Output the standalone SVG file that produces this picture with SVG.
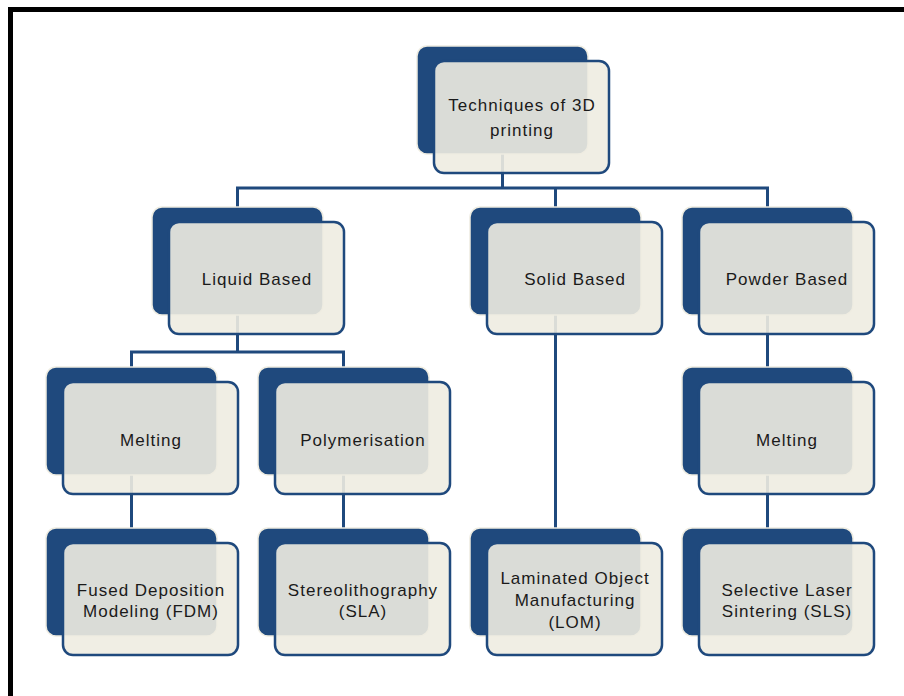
<svg xmlns="http://www.w3.org/2000/svg" width="904" height="696" viewBox="0 0 904 696">
<style>
.back{fill:#1F497D;stroke:#EEECE1;stroke-width:1.5}
.front{fill:#EEECE1;fill-opacity:0.9;stroke:#1F497D;stroke-width:2.5}
.conn{fill:none;stroke:#1F497D;stroke-width:3}
.t{font-family:"Liberation Sans",Arial,sans-serif;font-size:17px;letter-spacing:1px;fill:#1a1a1a;text-anchor:middle}
</style>
<rect width="904" height="696" fill="#ffffff"/>
<path d="M10.5,696 V9.5 H904" fill="none" stroke="#000" stroke-width="5"/>
<g id="connectors">
<path class="conn" d="M502.5,153 V188 M237.5,207 V188 H767.5 V207 M555.5,188 V207"/>
<path class="conn" d="M237.5,315 V352 M131.5,367 V352 H343.5 V367"/>
<path class="conn" d="M131.5,475 V528 M343.5,475 V528 M555.5,315 V528 M767.5,315 V367 M767.5,475 V528"/>
</g>
<g id="root">
<rect class="back" x="417" y="46" width="171" height="108" rx="10"/>
<rect class="front" x="434" y="61" width="175" height="112" rx="10"/>
<text class="t" x="522" y="111">Techniques of 3D</text>
<text class="t" x="522" y="136">printing</text>
</g>
<g id="liquid">
<rect class="back" x="152" y="207" width="171" height="108" rx="10"/>
<rect class="front" x="169" y="222" width="175" height="112" rx="10"/>
<text class="t" x="257" y="285">Liquid Based</text>
</g>
<g id="solid">
<rect class="back" x="470" y="207" width="171" height="108" rx="10"/>
<rect class="front" x="487" y="222" width="175" height="112" rx="10"/>
<text class="t" x="575" y="285">Solid Based</text>
</g>
<g id="powder">
<rect class="back" x="682" y="207" width="171" height="108" rx="10"/>
<rect class="front" x="699" y="222" width="175" height="112" rx="10"/>
<text class="t" x="787" y="285">Powder Based</text>
</g>
<g id="melting1">
<rect class="back" x="46" y="367" width="171" height="108" rx="10"/>
<rect class="front" x="63" y="382" width="175" height="112" rx="10"/>
<text class="t" x="151" y="446">Melting</text>
</g>
<g id="polymerisation">
<rect class="back" x="258" y="367" width="171" height="108" rx="10"/>
<rect class="front" x="275" y="382" width="175" height="112" rx="10"/>
<text class="t" x="363" y="446">Polymerisation</text>
</g>
<g id="melting2">
<rect class="back" x="682" y="367" width="171" height="108" rx="10"/>
<rect class="front" x="699" y="382" width="175" height="112" rx="10"/>
<text class="t" x="787" y="446">Melting</text>
</g>
<g id="fdm">
<rect class="back" x="46" y="528" width="171" height="108" rx="10"/>
<rect class="front" x="63" y="543" width="175" height="112" rx="10"/>
<text class="t" x="151" y="596">Fused Deposition</text>
<text class="t" x="151" y="617">Modeling (FDM)</text>
</g>
<g id="sla">
<rect class="back" x="258" y="528" width="171" height="108" rx="10"/>
<rect class="front" x="275" y="543" width="175" height="112" rx="10"/>
<text class="t" x="363" y="596">Stereolithography</text>
<text class="t" x="363" y="617">(SLA)</text>
</g>
<g id="lom">
<rect class="back" x="470" y="528" width="171" height="108" rx="10"/>
<rect class="front" x="487" y="543" width="175" height="112" rx="10"/>
<text class="t" x="575" y="584">Laminated Object</text>
<text class="t" x="575" y="606">Manufacturing</text>
<text class="t" x="575" y="628">(LOM)</text>
</g>
<g id="sls">
<rect class="back" x="682" y="528" width="171" height="108" rx="10"/>
<rect class="front" x="699" y="543" width="175" height="112" rx="10"/>
<text class="t" x="787" y="596">Selective Laser</text>
<text class="t" x="787" y="617">Sintering (SLS)</text>
</g>
</svg>
